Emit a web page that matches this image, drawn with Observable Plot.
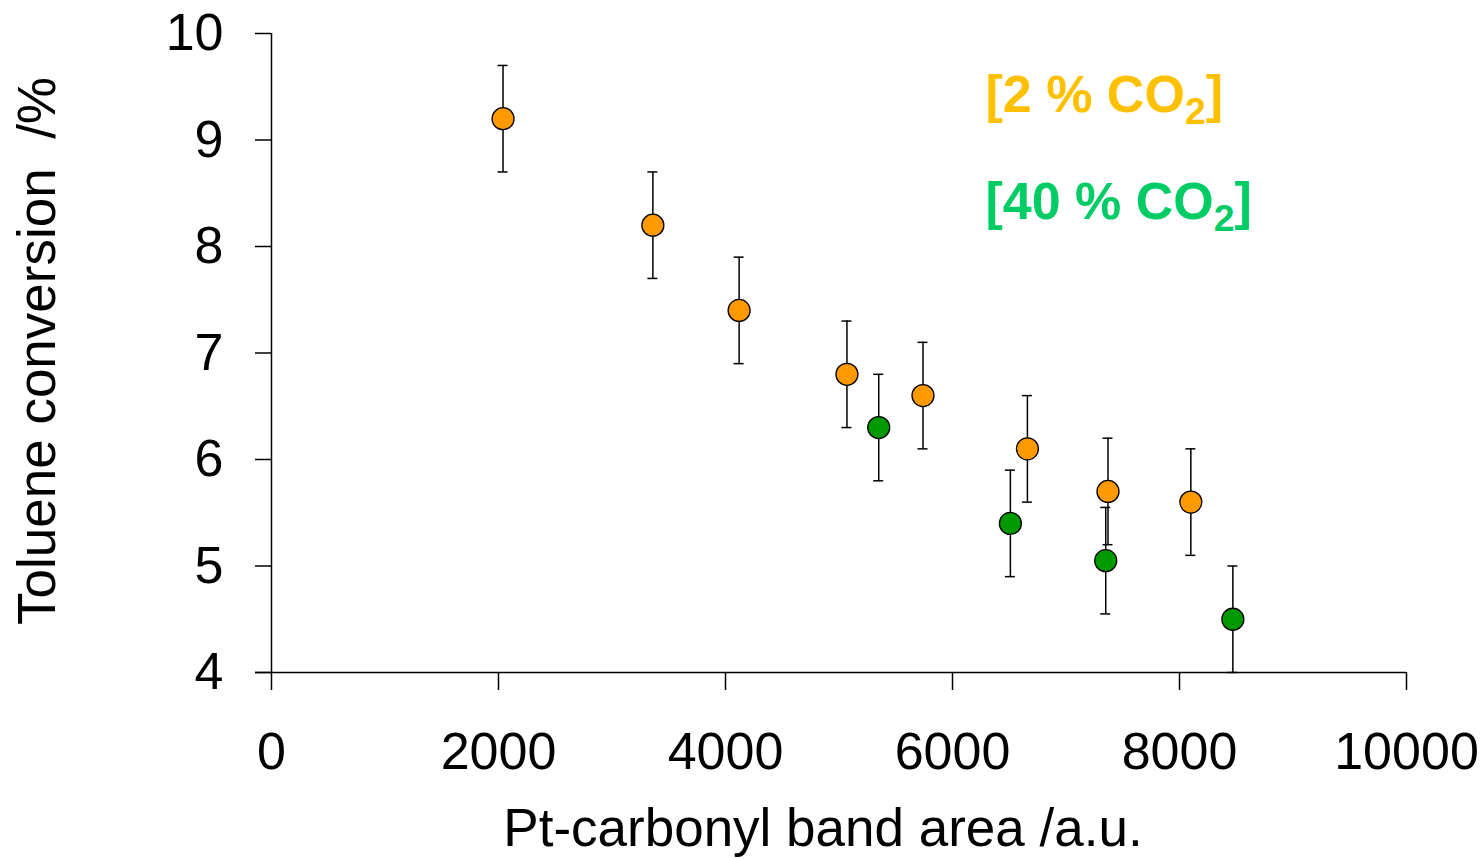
<!DOCTYPE html>
<html>
<head>
<meta charset="utf-8">
<script src="https://cdn.jsdelivr.net/npm/d3@7"></script>
<script src="https://cdn.jsdelivr.net/npm/@observablehq/plot@0.6"></script>
<style>
  html, body { margin: 0; padding: 0; background: #fff; }
  #chart { width: 1484px; height: 859px; overflow: hidden; }
</style>
</head>
<body>
<div id="chart"></div>
<script>
// Pt-carbonyl band area vs. toluene conversion, two CO2 feed levels
const areaLow = [2040, 3360, 4120, 5070, 5740, 6660, 7370, 8100];   // 2 % CO2
const convLow = [9.2, 8.2, 7.4, 6.8, 6.6, 6.1, 5.7, 5.6];
const errLow  = [0.5, 0.5, 0.5, 0.5, 0.5, 0.5, 0.5, 0.5];

const areaHigh = [5350, 6510, 7350, 8470];                          // 40 % CO2
const convHigh = [6.3, 5.4, 5.05, 4.5];
const errHigh  = [0.5, 0.5, 0.5, 0.5];

const xTicks = [0, 2000, 4000, 6000, 8000, 10000];
const yTicks = [4, 5, 6, 7, 8, 9, 10];
const legendLabels = ["[2 % CO2]", "[40 % CO2]"];
const xLabel = "Pt-carbonyl band area /a.u.";
const yLabel = "Toluene conversion  /%";

const colorLow = "#FF9900", colorHigh = "#009900";
const legendLow = "#FFC000", legendHigh = "#00CC66";

const rows = (xs, ys, es, series) => xs.map((x, i) => ({x, y: ys[i], e: es[i], series}));
const low = rows(areaLow, convLow, errLow, "low");
const high = rows(areaHigh, convHigh, errHigh, "high");
const all = [...low, ...high];

const errorBars = (data) => [
  Plot.ruleX(data, {x: "x", y1: d => d.y - d.e, y2: d => d.y + d.e, stroke: "black", strokeWidth: 1.5}),
  Plot.ruleY(data, {y: d => d.y + d.e, x1: "x", x2: "x", insetLeft: -5, insetRight: -5, stroke: "black", strokeWidth: 1.5}),
  Plot.ruleY(data, {y: d => d.y - d.e, x1: "x", x2: "x", insetLeft: -5, insetRight: -5, stroke: "black", strokeWidth: 1.5})
];

const chart = Plot.plot({
  width: 1484,
  height: 859,
  marginLeft: 271,
  marginRight: 78,
  marginTop: 33,
  marginBottom: 187,
  x: {domain: [0, 10000]},
  y: {domain: [4, 10]},
  style: {fontFamily: "Liberation Sans, Arial, sans-serif", color: "black", background: "white", overflow: "visible"},
  marks: [
    // axis lines
    Plot.ruleY([4], {insetLeft: -16, stroke: "black", strokeWidth: 1.5}),
    Plot.ruleX([0], {stroke: "black", strokeWidth: 1.5}),
    Plot.axisY({ticks: yTicks, tickSize: 16, tickPadding: 32, fontSize: 52, label: null, tickFormat: d => String(d), strokeWidth: 1.5}),
    Plot.axisX({ticks: xTicks, tickSize: 18, tickPadding: 42, fontSize: 52, label: null, tickFormat: d => String(d), strokeWidth: 1.5}),
    // error bars then points
    ...errorBars(all),
    Plot.dot(low, {x: "x", y: "y", r: 11, fill: colorLow, stroke: "black", strokeWidth: 1.3}),
    Plot.dot(high, {x: "x", y: "y", r: 11, fill: colorHigh, stroke: "black", strokeWidth: 1.3}),
    // series labels
    Plot.text([legendLabels[0]], {frameAnchor: "top-left", dx: 714, dy: 42, lineAnchor: "top", textAnchor: "start",
      fill: legendLow, fontSize: 52, fontWeight: "bold"}),
    Plot.text([legendLabels[1]], {frameAnchor: "top-left", dx: 714, dy: 149, lineAnchor: "top", textAnchor: "start",
      fill: legendHigh, fontSize: 52, fontWeight: "bold"}),
    // axis titles
    Plot.text([xLabel], {frameAnchor: "bottom", dx: -16, dy: 136, lineAnchor: "top", textAnchor: "middle", fontSize: 53, fill: "black"}),
    Plot.text([yLabel], {frameAnchor: "left", rotate: -90, dx: -254, dy: -2, lineAnchor: "top", textAnchor: "middle", fontSize: 53, fill: "black"})
  ]
});

// subscript the "2" of CO2 in the series labels
chart.querySelectorAll("text").forEach(t => {
  const m = t.textContent.match(/^(.*CO)2(\])$/);
  if (!m) return;
  t.textContent = "";
  const ns = "http://www.w3.org/2000/svg";
  const a = document.createElementNS(ns, "tspan");
  a.textContent = m[1];
  const sub = document.createElementNS(ns, "tspan");
  sub.textContent = "2";
  sub.setAttribute("font-size", "72%");
  sub.setAttribute("dy", "12");
  const b = document.createElementNS(ns, "tspan");
  b.textContent = m[2];
  b.setAttribute("dy", "-12");
  t.append(a, sub, b);
});

document.getElementById("chart").appendChild(chart);
</script>
</body>
</html>
